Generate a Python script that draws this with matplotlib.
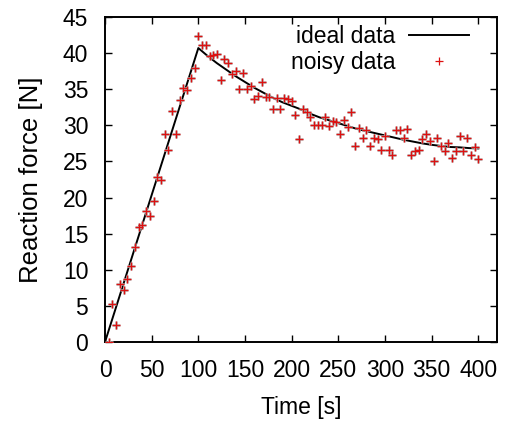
import numpy as np
import matplotlib
matplotlib.use("Agg")
import matplotlib.pyplot as plt

plt.rcParams['font.family'] = ['Liberation Sans', 'DejaVu Sans']

# ideal curve
ideal_t = [0, 100, 110, 120, 130, 140, 150, 160, 170, 180, 190, 200, 210, 220,
           230, 240, 250, 260, 270, 280, 290, 300, 310, 320, 330, 340, 350,
           360, 370, 380, 390, 400]
ideal_f = [0.0, 40.7, 39.6, 38.6, 37.7, 36.8, 36.0, 35.2, 34.5, 33.8, 33.2,
           32.7, 32.2, 31.6, 31.1, 30.7, 30.3, 29.9, 29.5, 29.2, 28.9, 28.6,
           28.3, 28.0, 27.75, 27.5, 27.3, 27.15, 27.0, 26.95, 26.85, 26.8]

# noisy samples, every 4 s
noisy_t = list(range(4, 401, 4))
noisy_f = [0.0, 5.2, 2.3, 8.1, 7.2, 8.7, 10.5, 13.2, 15.9, 16.2,
           18.1, 17.4, 19.5, 22.9, 22.4, 28.8, 26.6, 32.0, 28.8, 33.5,
           35.2, 34.9, 36.5, 38.0, 42.4, 41.1, 41.1, 39.6, 39.7, 39.9,
           36.3, 39.2, 38.6, 37.1, 37.5, 35.1, 37.2, 35.1, 35.4, 33.6,
           34.0, 36.0, 33.9, 33.9, 32.2, 33.8, 32.3, 33.8, 33.6, 33.4,
           31.5, 28.1, 32.3, 31.8, 31.1, 30.0, 30.0, 30.1, 31.2, 29.9,
           30.6, 30.4, 28.8, 30.8, 29.8, 31.9, 27.2, 29.7, 28.2, 29.4,
           27.1, 28.3, 28.1, 26.6, 28.5, 26.6, 25.9, 29.4, 29.4, 28.3,
           29.45, 25.9, 26.4, 26.6, 28.1, 28.8, 27.8, 25.1, 28.3, 27.2,
           26.5, 27.6, 25.5, 26.5, 28.5, 26.5, 28.3, 25.9, 27.0, 25.3]

FS = 16.5   # horizontal text
FS_Y = 18.5  # vertical axis label

fig = plt.figure(figsize=(5.05, 4.25), dpi=100)
ax = fig.add_axes([105/505, 1 - 342/425, (497 - 105)/505, (342 - 17)/425])

ax.plot(ideal_t, ideal_f, color='black', lw=1.4, label='ideal data', zorder=2)
ax.plot(noisy_t, noisy_f, ls='none', marker='+', ms=5.5, mew=1.8,
        color='#b8a8a8', zorder=3)
ax.plot(noisy_t, noisy_f, ls='none', marker='+', ms=5.5, mew=0.9,
        color='#dd1111', zorder=4, label='noisy data')

ax.set_xlim(0, 420)
ax.set_ylim(0, 45)
ax.set_xticks(np.arange(0, 401, 50))
ax.set_yticks(np.arange(0, 46, 5))
ax.tick_params(direction='in', length=5, width=1, top=True, right=True,
               labelsize=FS, colors='black')
ax.tick_params(axis='y', pad=12)
ax.tick_params(axis='x', pad=12)
for s in ax.spines.values():
    s.set_linewidth(1.4)

ax.set_xlabel('Time [s]', fontsize=FS, labelpad=10)
ax.set_ylabel('Reaction force [N]', fontsize=FS_Y, labelpad=14)

leg = ax.legend(loc='upper right', frameon=False, markerfirst=False,
                fontsize=FS, handlelength=2.6, handletextpad=0.6,
                borderpad=0, borderaxespad=0, labelspacing=0.12,
                bbox_to_anchor=(0.9286, 0.975))

fig.savefig('out.png', dpi=100)
